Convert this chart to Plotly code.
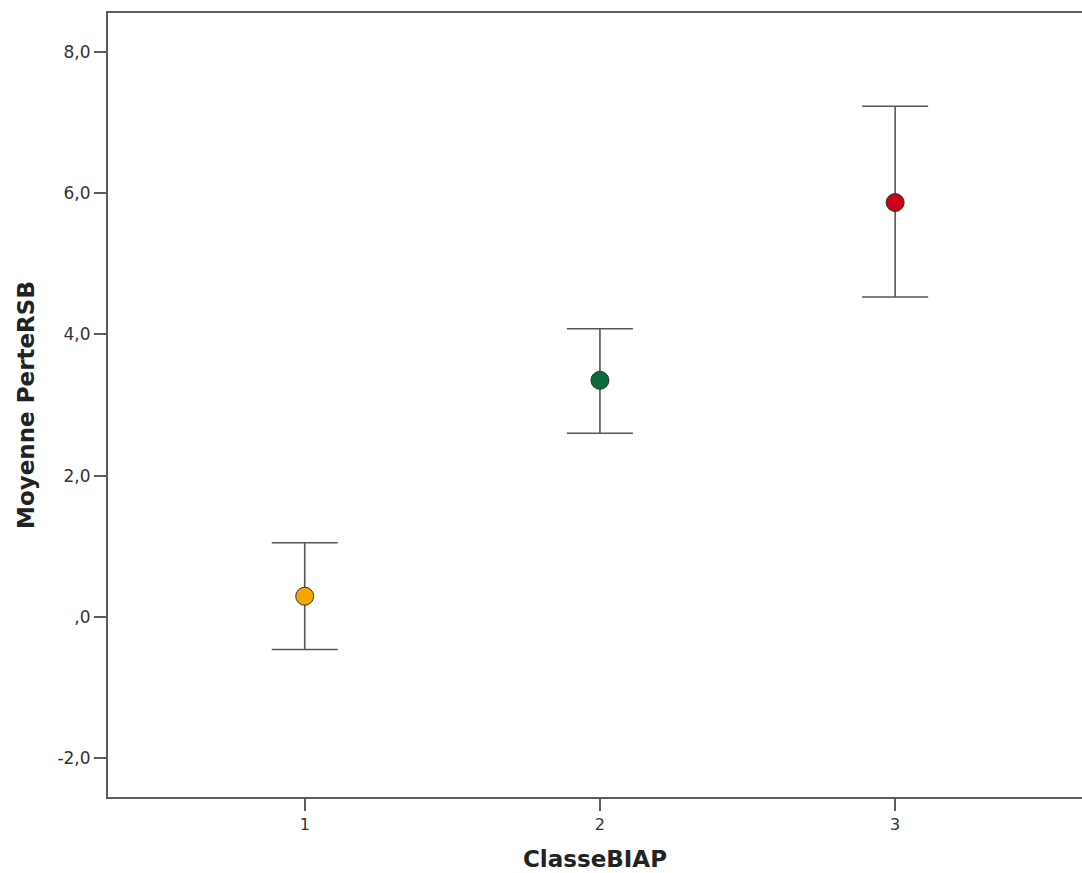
import plotly.graph_objects as go

# Group means of PerteRSB by ClasseBIAP with their interval bounds
classes = [1, 2, 3]
means = [0.29, 3.35, 5.87]
lower = [-0.465, 2.60, 4.53]
upper = [1.047, 4.08, 7.235]
point_colors = ["#F7A400", "#0A6B3A", "#C8001A"]

y_tickvals = [-2, 0, 2, 4, 6, 8]
y_ticktext = ["-2,0", ",0", "2,0", "4,0", "6,0", "8,0"]
x_ticktext = ["1", "2", "3"]

err_plus = [u - m for u, m in zip(upper, means)]
err_minus = [m - l for m, l in zip(means, lower)]

axis_color = "#5c5c5c"
font_family = "DejaVu Sans"

fig = go.Figure()
fig.add_trace(go.Scatter(
    x=classes,
    y=means,
    mode="markers",
    marker=dict(size=18, color=point_colors, line=dict(color="#333333", width=1)),
    error_y=dict(
        type="data",
        symmetric=False,
        array=err_plus,
        arrayminus=err_minus,
        color="#555555",
        thickness=1.6,
        width=33,
    ),
    showlegend=False,
))

fig.update_layout(
    width=1082,
    height=873,
    margin=dict(l=108, r=0, t=13, b=76),
    paper_bgcolor="white",
    plot_bgcolor="white",
    font=dict(family=font_family, color="#333333"),
    xaxis=dict(
        range=[0.3336, 3.633],
        tickvals=classes,
        ticktext=x_ticktext,
        ticks="outside",
        ticklen=12,
        tickwidth=2,
        tickcolor=axis_color,
        showline=True,
        linecolor=axis_color,
        linewidth=2,
        mirror=True,
        showgrid=False,
        zeroline=False,
        tickfont=dict(size=16, color="#333333"),
        title=dict(text="<b>ClasseBIAP</b>", font=dict(size=23, color="#222222"), standoff=18),
    ),
    yaxis=dict(
        range=[-2.556, 8.556],
        tickvals=y_tickvals,
        ticktext=y_ticktext,
        ticks="outside",
        ticklen=12,
        tickwidth=2,
        tickcolor=axis_color,
        showline=True,
        linecolor=axis_color,
        linewidth=2,
        mirror=False,
        showgrid=False,
        zeroline=False,
        tickfont=dict(size=17, color="#333333"),
        title=dict(text="<b>Moyenne PerteRSB</b>", font=dict(size=23, color="#222222"), standoff=16),
    ),
)

fig.write_html("out.html")
